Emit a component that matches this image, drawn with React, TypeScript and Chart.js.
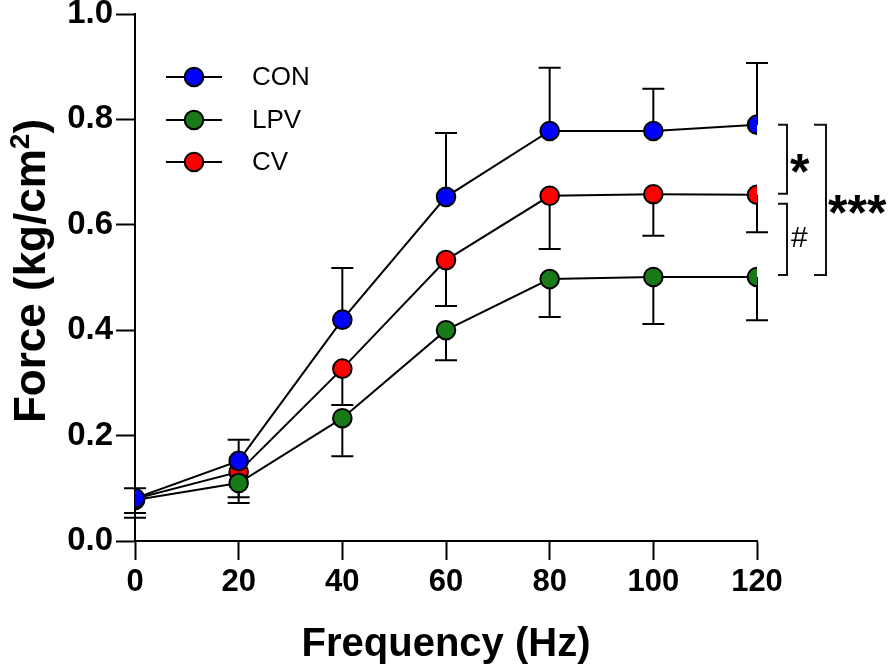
import React, { useEffect, useRef } from 'react';
import { Chart, registerables } from 'chart.js';

Chart.register(...registerables);

const frequencies = [0, 20, 40, 60, 80, 100, 120];
const conMean = [0.081, 0.152, 0.42, 0.653, 0.778, 0.778, 0.79];
const conErr = [0.019, 0.04, 0.098, 0.121, 0.12, 0.08, 0.117];
const lpvMean = [0.078, 0.11, 0.233, 0.4, 0.497, 0.501, 0.501];
const lpvErr = [0.034, 0.038, 0.072, 0.057, 0.072, 0.089, 0.082];
const cvMean = [0.08, 0.131, 0.327, 0.533, 0.655, 0.658, 0.657];
const cvErr = [0.027, 0.048, 0.069, 0.087, 0.101, 0.079, 0.071];
// error direction: +1 = drawn upward, -1 = drawn downward
const conDir = 1;
const lpvDir = -1;
const cvDir = -1;

const xTicks = [0, 20, 40, 60, 80, 100, 120];
const yTicks = [0, 0.2, 0.4, 0.6, 0.8, 1.0];

const seriesNames = ['CON', 'LPV', 'CV'];
const seriesColors = ['#0000ff', '#187a18', '#ff0000'];

const xTitle = 'Frequency (Hz)';
const yTitleMain = 'Force (kg/cm';
const yTitleSup = '2';
const yTitleEnd = ')';

const FONT = '"Liberation Sans", Arial, Helvetica, sans-serif';

export default function App() {
  const ref = useRef<HTMLCanvasElement>(null);

  useEffect(() => {
    const means = [conMean, lpvMean, cvMean];
    const errs = [conErr, lpvErr, cvErr];
    const dirs = [conDir, lpvDir, cvDir];

    const errorBars = {
      id: 'errorBars',
      beforeDatasetsDraw(chart: any) {
        const ctx = chart.ctx;
        const xs = chart.scales.x;
        const ys = chart.scales.y;
        ctx.save();
        ctx.strokeStyle = '#000';
        ctx.lineWidth = 2;
        for (let s = 0; s < means.length; s++) {
          for (let i = 0; i < frequencies.length; i++) {
            const px = xs.getPixelForValue(frequencies[i]);
            const y0 = ys.getPixelForValue(means[s][i]);
            const y1 = ys.getPixelForValue(means[s][i] + dirs[s] * errs[s][i]);
            ctx.beginPath();
            ctx.moveTo(px, y0);
            ctx.lineTo(px, y1);
            ctx.moveTo(px - 11, y1);
            ctx.lineTo(px + 11, y1);
            ctx.stroke();
          }
        }
        ctx.restore();
      },
    };

    const overlay = {
      id: 'overlay',
      afterDraw(chart: any) {
        const ctx = chart.ctx;
        const ys = chart.scales.y;
        const right = chart.chartArea.right;
        ctx.save();
        // y-axis title with superscript
        const mainFont = `bold 44px ${FONT}`;
        const supFont = `bold 28px ${FONT}`;
        ctx.font = mainFont;
        const w1 = ctx.measureText(yTitleMain).width;
        const w3 = ctx.measureText(yTitleEnd).width;
        ctx.font = supFont;
        const w2 = ctx.measureText(yTitleSup).width;
        const total = w1 + w2 + w3;
        ctx.translate(45, 271);
        ctx.rotate(-Math.PI / 2);
        ctx.fillStyle = '#000';
        ctx.textAlign = 'left';
        ctx.textBaseline = 'alphabetic';
        let cx = -total / 2;
        ctx.font = mainFont;
        ctx.fillText(yTitleMain, cx, 0);
        cx += w1;
        ctx.font = supFont;
        ctx.fillText(yTitleSup, cx, -16);
        cx += w2;
        ctx.font = mainFont;
        ctx.fillText(yTitleEnd, cx, 0);
        ctx.setTransform(1, 0, 0, 1, 0, 0);
        // legend
        const legendY = [77, 120, 162];
        for (let k = 0; k < seriesNames.length; k++) {
          const y = legendY[k];
          ctx.strokeStyle = '#000';
          ctx.lineWidth = 2;
          ctx.beginPath();
          ctx.moveTo(166, y);
          ctx.lineTo(222, y);
          ctx.stroke();
          ctx.beginPath();
          ctx.arc(194, y, 9.3, 0, Math.PI * 2);
          ctx.fillStyle = seriesColors[k];
          ctx.fill();
          ctx.stroke();
          ctx.fillStyle = '#000';
          ctx.font = `26px ${FONT}`;
          ctx.textAlign = 'left';
          ctx.textBaseline = 'middle';
          ctx.fillText(seriesNames[k], 252, y + 1);
        }
        // significance brackets
        const last = frequencies.length - 1;
        const yCon = ys.getPixelForValue(conMean[last]);
        const yCv = ys.getPixelForValue(cvMean[last]);
        const yLpv = ys.getPixelForValue(lpvMean[last]);
        ctx.strokeStyle = '#111';
        ctx.lineWidth = 2;
        const bracket = (x: number, t: number, b: number, w: number) => {
          ctx.beginPath();
          ctx.moveTo(x - w, t);
          ctx.lineTo(x, t);
          ctx.lineTo(x, b);
          ctx.lineTo(x - w, b);
          ctx.stroke();
        };
        bracket(right + 30, yCon, yCv - 1, 9);
        bracket(right + 30, yCv + 9, yLpv - 2, 9);
        bracket(right + 69, yCon, yLpv - 2, 12);
        ctx.fillStyle = '#000';
        ctx.textAlign = 'left';
        ctx.textBaseline = 'alphabetic';
        ctx.font = `bold 50px ${FONT}`;
        ctx.fillText('*', right + 33, (yCon + yCv) / 2 + 29);
        ctx.fillText('***', right + 71, (yCon + yLpv) / 2 + 29);
        ctx.font = `30px ${FONT}`;
        ctx.fillText('#', right + 34, (yCv + yLpv) / 2 + 11);
        ctx.restore();
      },
    };

    const xTickFont = { family: FONT, size: 31, weight: 'bold' as const };
    const yTickFont = { family: FONT, size: 33, weight: 'bold' as const };

    const chart = new Chart(ref.current!, {
      type: 'line',
      data: {
        datasets: [conMean, lpvMean, cvMean].map((m, k) => ({
          label: seriesNames[k],
          data: frequencies.map((x, i) => ({ x, y: m[i] })),
          borderColor: '#000',
          borderWidth: 2,
          backgroundColor: seriesColors[k],
          pointBackgroundColor: seriesColors[k],
          pointBorderColor: '#000',
          pointBorderWidth: 2,
          pointRadius: 9.3,
          pointHoverRadius: 9.3,
          tension: 0,
          fill: false,
        })),
      },
      options: {
        animation: false,
        responsive: false,
        events: [],
        layout: { padding: { top: 14, right: 137, left: 0, bottom: 0 } },
        plugins: { legend: { display: false }, tooltip: { enabled: false } },
        scales: {
          x: {
            type: 'linear',
            min: 0,
            max: 120,
            afterBuildTicks: (s: any) => {
              s.ticks = xTicks.map((v) => ({ value: v }));
            },
            ticks: { font: xTickFont, color: '#000', padding: 4, maxRotation: 0, autoSkip: false },
            grid: { drawOnChartArea: false, tickLength: 19, tickColor: '#000', tickWidth: 2 },
            border: { color: '#000', width: 2 },
            title: {
              display: true,
              text: xTitle,
              color: '#000',
              font: { family: FONT, size: 40, weight: 'bold', lineHeight: 1.2 },
              padding: { top: 0, bottom: 0 },
            },
            afterFit: (s: any) => {
              s.height = 128;
              s.paddingLeft = 0;
              s.paddingRight = 0;
            },
          },
          y: {
            type: 'linear',
            min: 0,
            max: 1,
            afterBuildTicks: (s: any) => {
              s.ticks = yTicks.map((v) => ({ value: v }));
            },
            ticks: {
              font: yTickFont,
              color: '#000',
              padding: 3,
              autoSkip: false,
              callback: (v: any) => Number(v).toFixed(1),
            },
            grid: { drawOnChartArea: false, tickLength: 19, tickColor: '#000', tickWidth: 2 },
            border: { color: '#000', width: 2 },
            title: { display: false },
            afterFit: (s: any) => {
              s.width = 135;
              s.paddingTop = 0;
              s.paddingBottom = 0;
            },
          },
        },
      },
      plugins: [errorBars, overlay],
    });
    return () => chart.destroy();
  }, []);

  return (
    <div style={{ position: 'fixed', left: 0, top: 0, width: 894, height: 669, background: '#fff' }}>
      <canvas ref={ref} width={894} height={669} style={{ width: 894, height: 669, display: 'block' }} />
    </div>
  );
}
